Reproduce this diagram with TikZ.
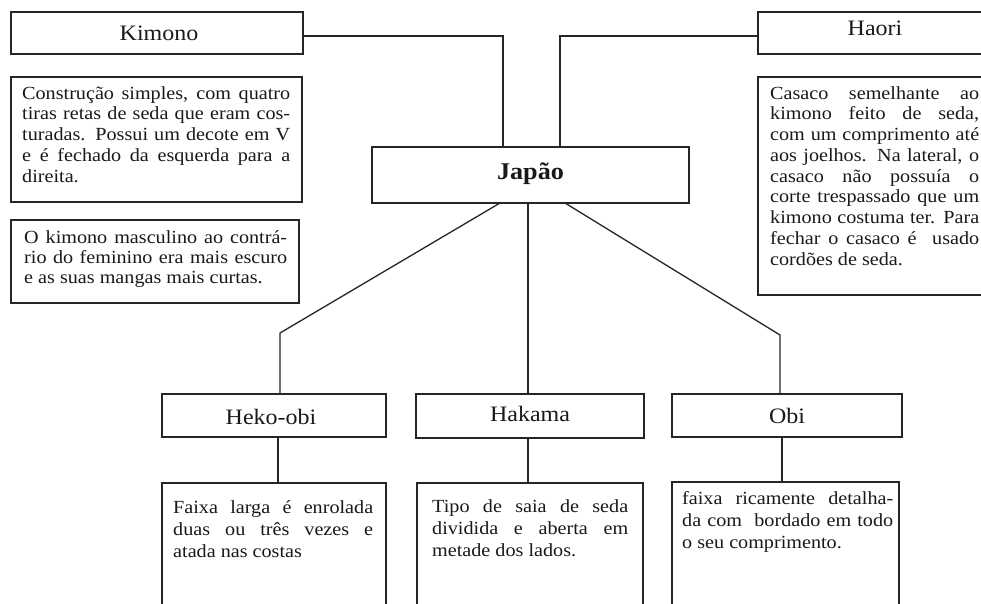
\documentclass[tikz,border=0pt]{standalone}
\usepackage{fontspec}
\setmainfont{Liberation Serif}[FakeStretch=1.09]
\newcommand\jline[2]{\makebox[#1][s]{#2}}
\begin{document}
\begin{tikzpicture}[x=1pt,y=-1pt,
  box/.style={draw=black!85, line width=1.3pt, inner sep=0pt, outer sep=0pt, anchor=north west},
  title/.style={font=\fontsize{22}{24}\selectfont, inner sep=0pt, anchor=base, text=black!90},
  desc/.style={font=\fontsize{18.5}{20.75}\selectfont, inner sep=0pt, anchor=base west, text=black!90},
  descb/.style={font=\fontsize{18.5}{22.3}\selectfont, inner sep=0pt, anchor=base west, text=black!90},
  link/.style={draw=black!85, line width=1.3pt}]
\useasboundingbox[fill=white] (0,0) rectangle (981,603);

% title boxes
\node[box, minimum width=292pt, minimum height=42pt] (kimono) at (11,12) {};
\node[title] (kimonoT) at (159,40) {Kimono};
\node[box, minimum width=234pt, minimum height=42pt] (haori) at (758,12) {};
\node[title] (haoriT) at (875,35) {Haori};
\node[box, minimum width=317pt, minimum height=56pt] (japao) at (372,147) {};
\node[title, font=\fontsize{24}{28}\selectfont\bfseries] (japaoT) at (530.5,179) {Japão};
\node[box, minimum width=224pt, minimum height=43pt] (heko) at (162,394) {};
\node[title] (hekoT) at (271,424) {Heko-obi};
\node[box, minimum width=228pt, minimum height=44pt] (hakama) at (416,394) {};
\node[title] (hakamaT) at (530,421) {Hakama};
\node[box, minimum width=230pt, minimum height=43pt] (obi) at (672,394) {};
\node[title] (obiT) at (787,423) {Obi};

% description boxes
\node[box, minimum width=291pt, minimum height=125pt] (kimD) at (11,77) {};
\node[desc] (kimDT) at (22,99) {\parbox[t]{268pt}{%
\jline{268pt}{Construção simples, com quatro}\\
\jline{268pt}{tiras retas de seda que eram cos-}\\
\jline{268pt}{turadas. Possui um decote em V}\\
\jline{268pt}{e é fechado da esquerda para a}\\
direita.}};

\node[box, minimum width=288pt, minimum height=83pt] (kimE) at (11,220) {};
\node[desc, font=\fontsize{18.5}{20}\selectfont] (kimET) at (24,243) {\parbox[t]{263pt}{%
\jline{263pt}{O kimono masculino ao contrá-}\\
\jline{263pt}{rio do feminino era mais escuro}\\
e as suas mangas mais curtas.}};

\node[box, minimum width=240pt, minimum height=218pt] (haoD) at (758,77) {};
\node[desc] (haoDT) at (770,99) {\parbox[t]{209pt}{%
\jline{209pt}{Casaco semelhante ao}\\
\jline{209pt}{kimono feito de seda,}\\
\jline{209pt}{com um comprimento até}\\
\jline{209pt}{aos joelhos. Na lateral, o}\\
\jline{209pt}{casaco não possuía o}\\
\jline{209pt}{corte trespassado que um}\\
\jline{209pt}{kimono costuma ter. Para}\\
\jline{209pt}{fechar o casaco é \ usado}\\
cordões de seda.}};

\node[box, minimum width=224pt, minimum height=140pt] (hekD) at (162,483) {};
\node[descb] (hekDT) at (173,513) {\parbox[t]{200pt}{%
\jline{200pt}{Faixa larga é enrolada}\\
\jline{200pt}{duas ou três vezes e}\\
atada nas costas}};

\node[box, minimum width=226pt, minimum height=140pt] (hakD) at (417,483) {};
\node[descb] (hakDT) at (432,512) {\parbox[t]{196pt}{%
\jline{196pt}{Tipo de saia de seda}\\
\jline{196pt}{dividida e aberta em}\\
metade dos lados.}};

\node[box, minimum width=227pt, minimum height=140pt] (obiD) at (672,482) {};
\node[desc, font=\fontsize{18.5}{22}\selectfont] (obiDT) at (682,504) {\parbox[t]{211pt}{%
\jline{211pt}{faixa ricamente detalha-}\\
\jline{211pt}{da com \ bordado em todo}\\
o seu comprimento.}};

% connectors
\coordinate (kjt) at (503,147);
\coordinate (hjt) at (560,147);
\draw[link] ([yshift=-3pt]kimono.east) -| (kjt);
\draw[link] ([yshift=-3pt]haori.west) -| (hjt);
\coordinate (jbl) at (500,203);
\coordinate (jbm) at (528,203);
\coordinate (jbr) at (565,203);
\coordinate (hekbend) at (280,333);
\coordinate (obibend) at (780,335);
\draw[link] (jbl) -- (hekbend) -- (hekbend |- heko.north);
\draw[link] (jbm) -- (jbm |- hakama.north);
\draw[link] (jbr) -- (obibend) -- (obibend |- obi.north);
\coordinate (hekx) at (278,0);
\coordinate (hakx) at (528,0);
\coordinate (obix) at (782,0);
\draw[link] (heko.south -| hekx) -- (hekD.north -| hekx);
\draw[link] (hakama.south -| hakx) -- (hakD.north -| hakx);
\draw[link] (obi.south -| obix) -- (obiD.north -| obix);
\end{tikzpicture}
\end{document}
